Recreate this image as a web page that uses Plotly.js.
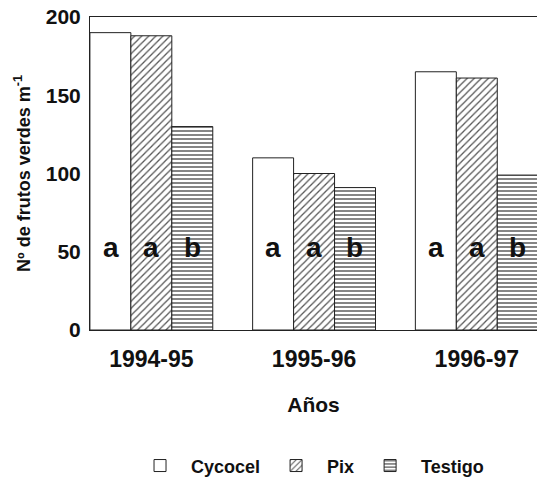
<!DOCTYPE html>
<html><head><meta charset="utf-8">
<script src="https://cdn.plot.ly/plotly-3.0.1.min.js"></script>
<style>html,body{margin:0;padding:0;background:#fff;overflow:hidden}</style>
</head><body><div id="chart" style="width:537px;height:481px"></div>
<script>
const years = ['1994-95', '1995-96', '1996-97'];
const cycocel = [190, 110, 165];
const pix = [188, 100, 161];
const testigo = [130, 91, 99];
const lettersCycocel = ['a', 'a', 'a'];
const lettersPix = ['a', 'a', 'a'];
const lettersTestigo = ['b', 'b', 'b'];
const letterLevel = 53;

const F = 'Liberation Sans, Arial, sans-serif';
const line = {color: '#222', width: 1};
const traces = [
  {type: 'bar', name: 'Cycocel', x: years, y: cycocel,
   marker: {color: '#fff', line: line}},
  {type: 'bar', name: 'Pix', x: years, y: pix,
   marker: {color: '#fff', line: line,
     pattern: {shape: '/', size: 5, solidity: 0.25, fgcolor: '#555', bgcolor: '#fff'}}},
  {type: 'bar', name: 'Testigo', x: years, y: testigo,
   marker: {color: '#fff', line: line,
     pattern: {shape: '-', size: 4, solidity: 0.3, fgcolor: '#333', bgcolor: '#fff'}}}
];

const bw = 0.25;
const annotations = [];
[lettersCycocel, lettersPix, lettersTestigo].forEach((arr, s) => {
  arr.forEach((t, i) => {
    annotations.push({x: i + (s - 1) * bw, y: letterLevel, xref: 'x', yref: 'y',
      text: t, showarrow: false, font: {family: F, size: 28, color: '#111', weight: 'bold'}});
  });
});

const layout = {
  width: 537, height: 481,
  margin: {l: 90, r: 0, t: 17, b: 151, autoexpand: false},
  paper_bgcolor: '#fff', plot_bgcolor: '#fff',
  barmode: 'group', bargap: 0.245, bargroupgap: 0,
  showlegend: true,
  legend: {orientation: 'h', x: 0.49, xanchor: 'center', y: -0.434, yanchor: 'middle',
    font: {family: F, size: 18, color: '#111', weight: 'bold'}, itemwidth: 52, traceorder: 'normal'},
  xaxis: {type: 'category', range: [-0.377, 2.37], showline: true, linecolor: '#222', linewidth: 1,
    mirror: true, ticks: '', showgrid: false, zeroline: false, ticklabelstandoff: 8,
    tickfont: {family: F, size: 23, color: '#111', weight: 'bold'},
    title: {text: 'Años', font: {family: F, size: 21, color: '#111', weight: 'bold'}, standoff: 26}},
  yaxis: {range: [0, 200], tickvals: [0, 50, 100, 150, 200], showline: true, linecolor: '#222', linewidth: 1,
    ticks: '', showgrid: false, zeroline: false, ticklabelstandoff: 4,
    tickfont: {family: F, size: 21, color: '#111', weight: 'bold'},
    title: {text: 'Nº de frutos verdes m<sup>-1</sup>', font: {family: F, size: 18, color: '#111', weight: 'bold'}, standoff: 10}},
  annotations: annotations
};
Plotly.newPlot('chart', traces, layout, {displayModeBar: false, staticPlot: true});
</script></body></html>
